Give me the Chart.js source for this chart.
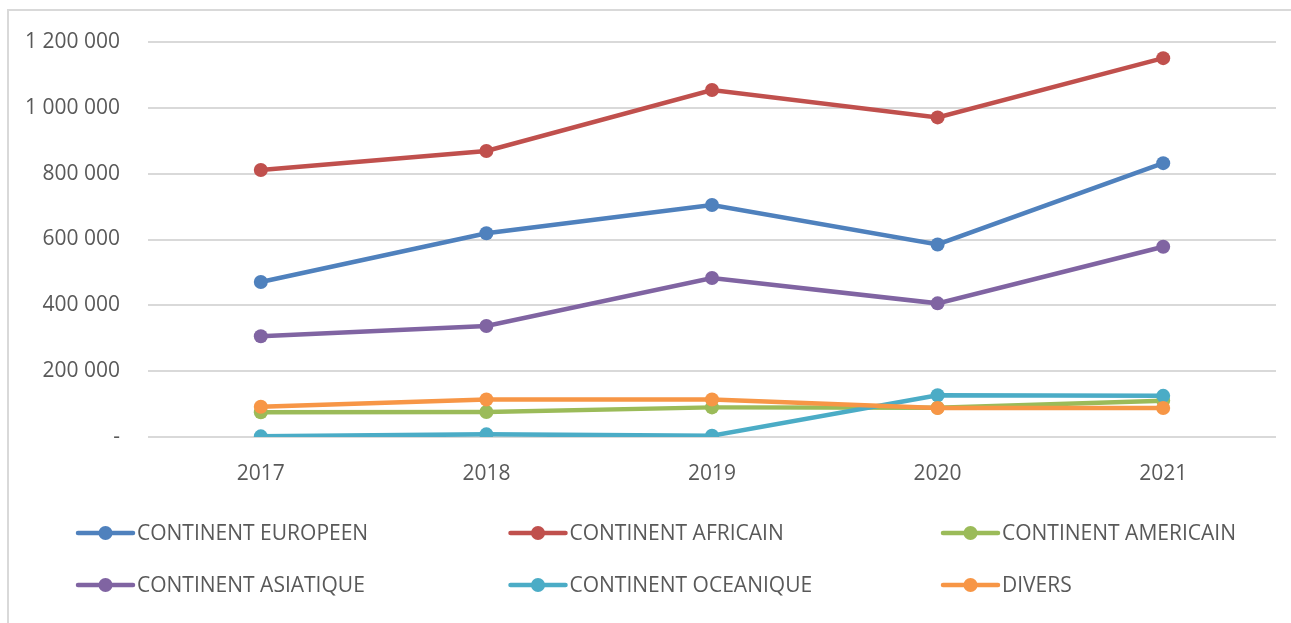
<!DOCTYPE html>
<html>
<head>
<meta charset="utf-8">
<script src="https://cdn.jsdelivr.net/npm/chart.js@4"></script>
<style>
  html, body { margin: 0; padding: 0; background: #fff; }
  #wrap { position: relative; width: 1291px; height: 623px; }
</style>
</head>
<body>
<div id="wrap"><canvas id="myChart" width="1291" height="623"></canvas></div>
<script>
const years = ['2017', '2018', '2019', '2020', '2021'];

const seriesNames = [
    'CONTINENT EUROPEEN',
    'CONTINENT AFRICAIN',
    'CONTINENT AMERICAIN',
    'CONTINENT ASIATIQUE',
    'CONTINENT OCEANIQUE',
    'DIVERS'
];

const europeen   = [471000, 619000, 705000, 585000, 832000];
const africain   = [811000, 869000, 1054000, 971000, 1151000];
const americain  = [75000, 76000, 90000, 89000, 110000];
const asiatique  = [306000, 337000, 483000, 406000, 578000];
const oceanique  = [2000, 8000, 4000, 127000, 125000];
const divers     = [92000, 114000, 114000, 88000, 88000];

const yTicks = [0, 200000, 400000, 600000, 800000, 1000000, 1200000];

const fixedColors = [
    '#4F81BD', // blue
    '#C0504D', // red
    '#9BBB59', // green
    '#8064A2', // purple
    '#4BACC6', // teal
    '#F79646'  // orange
];

const allValues = [europeen, africain, americain, asiatique, oceanique, divers];
const FONT = '"Open Sans", "Noto Sans", sans-serif';
const TEXT = '#595959';

function fmt(v) {
    if (v === 0) return '-';
    return String(v).replace(/\B(?=(\d{3})+(?!\d))/g, ' ');
}

const datasets = allValues.map((values, index) => ({
    label: seriesNames[index],
    data: values,
    borderColor: fixedColors[index],
    backgroundColor: fixedColors[index],
    pointBackgroundColor: fixedColors[index],
    pointBorderWidth: 0,
    pointRadius: 7,
    borderWidth: 4.5,
    tension: 0,
    order: allValues.length - index
}));

// frame + legend laid out as a 3 column grid, like the original
const gridLegend = {
    id: 'gridLegend',
    afterDraw(chart) {
        const ctx = chart.ctx;
        ctx.save();
        ctx.strokeStyle = '#d9d9d9';
        ctx.lineWidth = 2;
        ctx.beginPath();
        ctx.moveTo(8, 623);
        ctx.lineTo(8, 10);
        ctx.lineTo(1291, 10);
        ctx.stroke();

        ctx.font = '21px ' + FONT;
        ctx.textBaseline = 'middle';
        ctx.textAlign = 'left';
        chart.data.datasets.forEach((ds, i) => {
            const col = i % 3, row = Math.floor(i / 3);
            const x = 78 + col * 432.5;
            const y = 533 + row * 52;
            ctx.strokeStyle = ds.borderColor;
            ctx.lineWidth = 4.5;
            ctx.lineCap = 'round';
            ctx.beginPath();
            ctx.moveTo(x, y);
            ctx.lineTo(x + 55, y);
            ctx.stroke();
            ctx.fillStyle = ds.borderColor;
            ctx.beginPath();
            ctx.arc(x + 27.5, y, 7, 0, Math.PI * 2);
            ctx.fill();
            ctx.fillStyle = TEXT;
            ctx.fillText(ds.label, x + 59, y + 1);
        });
        ctx.restore();
    }
};

const ctx = document.getElementById('myChart').getContext('2d');
new Chart(ctx, {
    type: 'line',
    data: { labels: years, datasets: datasets },
    plugins: [gridLegend],
    options: {
        responsive: false,
        animation: false,
        layout: { padding: { left: 0, right: 15, top: 42, bottom: 116 } },
        plugins: {
            legend: { display: false },
            tooltip: { enabled: false }
        },
        scales: {
            x: {
                offset: true,
                grid: { display: false },
                border: { display: false },
                ticks: { color: TEXT, font: { family: FONT, size: 21 }, padding: 16 },
                afterFit(scale) { scale.height = 70; }
            },
            y: {
                min: 0,
                max: 1200000,
                afterBuildTicks(scale) { scale.ticks = yTicks.map(v => ({ value: v })); },
                grid: { color: '#d9d9d9', lineWidth: 2, drawTicks: false },
                border: { display: false },
                ticks: {
                    color: TEXT,
                    font: { family: FONT, size: 21 },
                    padding: 28,
                    callback: v => fmt(v)
                },
                afterFit(scale) { scale.width = 148; }
            }
        }
    }
});
</script>
</body>
</html>
